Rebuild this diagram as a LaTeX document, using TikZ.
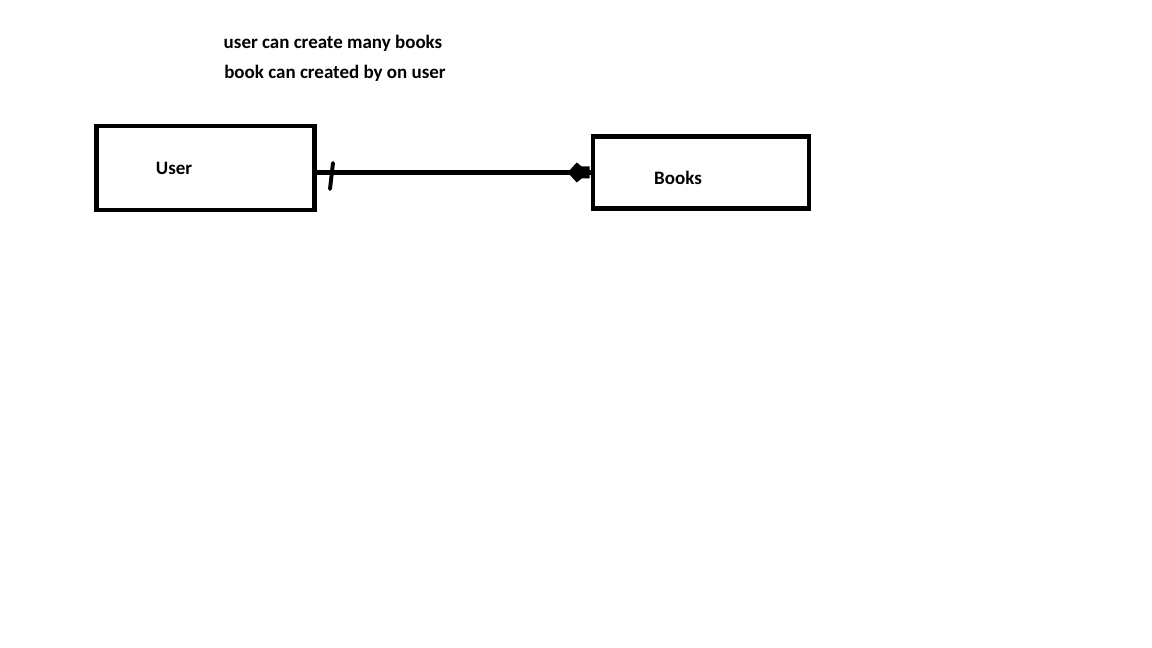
\documentclass[tikz,border=0pt]{standalone}
\usepackage{fontspec}
\setmainfont{Carlito}

\begin{document}
\begin{tikzpicture}[x=0.025cm, y=-0.025cm,
    entity/.style={draw, line width=3.2pt, inner sep=0pt},
    note/.style={font=\fontsize{13.5}{16}\selectfont\bfseries, inner sep=0pt}]
    \useasboundingbox (0,0) rectangle (1152,648);

    % Notes
    \node[note] (many) at (333,43) {user can create many books};
    \node[note] (one) at (335,73) {book can created by on user};

    % User entity
    \node[entity, minimum width=5.45cm, minimum height=2.1cm] (user) at (205.5,168) {};
    \node[note] (usertext) at (174,168) {User};

    % Books entity
    \node[entity, minimum width=5.4cm, minimum height=1.8cm] (books) at (701,172.5) {};
    \node[note] (bookstext) at (678,178) {Books};

    % Relation
    \draw[line width=3.2pt] (user.east |- books.west) -- (books.west);
    \fill ([shift={(-23,0)}]books.west) -- ([shift={(-14,-10)}]books.west)
        -- ([shift={(-9,-6)}]books.west) -- ([shift={(-1,-6)}]books.west)
        -- ([shift={(-1,6)}]books.west) -- ([shift={(-9,6)}]books.west)
        -- ([shift={(-14,10)}]books.west) -- cycle;
    \coordinate (tick) at (331.5,173);
    \draw[line width=2.8pt, line cap=round] ([shift={(1.5,-10)}]tick) -- ([shift={(-1.5,16)}]tick);
\end{tikzpicture}
\end{document}
